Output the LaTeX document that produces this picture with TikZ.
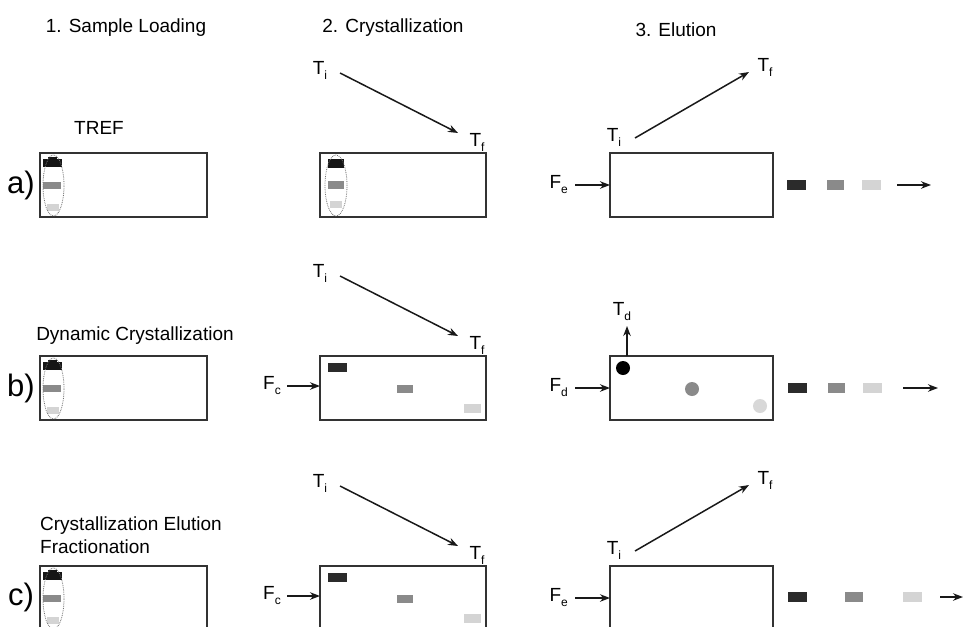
\documentclass[tikz,border=0pt]{standalone}
\usepackage{fontspec}
\setmainfont{Liberation Sans}
\usetikzlibrary{arrows.meta}
\newcommand{\lowsub}[1]{\raisebox{-0.5ex}{\fontsize{12}{12}\selectfont #1}}
\definecolor{bandblack}{HTML}{151515}
\definecolor{banddark}{HTML}{2B2B2B}
\definecolor{bandgray}{HTML}{8A8A8A}
\definecolor{bandlight}{HTML}{D4D4D4}
\begin{document}
\begin{tikzpicture}[x=1pt,y=-1pt,
  hdr/.style={font=\fontsize{19}{22}\selectfont, inner sep=0pt},
  lbl/.style={font=\fontsize{19}{23}\selectfont, inner sep=0pt, align=left},
  rowlbl/.style={font=\fontsize{31}{31}\selectfont, inner sep=0pt},
  tlbl/.style={font=\fontsize{19}{19}\selectfont, inner sep=0pt},
  colbox/.style={draw=black!80, line width=1.6pt, inner sep=0pt, outer sep=0pt, minimum height=64pt},
  arr/.style={-{Stealth[length=10pt,width=7.5pt]}, line width=1.5pt, draw=black!90},
  loadell/.style={draw=black!55, densely dotted, line width=0.8pt}
]
\clip (0,0) rectangle (963,626);
\fill[white] (0,0) rectangle (963,626);

% headers
\node[hdr] (h1) at (126,28) {1. Sample Loading};
\node[hdr] (h2) at (393,28) {2. Crystallization};
\node[hdr] (h3) at (676,30) {3. Elution};

% method labels
\node[lbl] (tref) at (99,128) {TREF};
\node[lbl] (dyn) at (135,336) {Dynamic Crystallization};
\node[lbl, anchor=west] (cef) at (40,535.5) {Crystallization Elution\\Fractionation};

% row labels
\node[rowlbl] (ra) at (21,185) {a)};
\node[rowlbl] (rb) at (21,388) {b)};
\node[rowlbl] (rc) at (21,597) {c)};

% ---------- column 1: sample loading ----------
\foreach \r/\t in {a/153,b/356,c/566}{
  \node[colbox, minimum width=167pt] (s\r) at (123.5,\t+32) {};
  \fill[bandblack] (43,\t+6) rectangle (62,\t+14);
  \fill[bandblack] (48,\t+3.5) rectangle (57,\t+6);
  \fill[bandgray] (43,\t+29) rectangle (61,\t+36);
  \fill[bandlight] (47,\t+51) rectangle (59,\t+58);
  \draw[loadell] (53.5,\t+32.5) ellipse [x radius=10.5pt, y radius=30.5pt];
}

% ---------- column 2: crystallization ----------
\foreach \r/\t in {a/153,b/356,c/566}{
  \node[colbox, minimum width=166pt] (c\r) at (403,\t+32) {};
  \node[tlbl] (cti\r) at (320,\t-83) {T\lowsub{i}};
  \node[tlbl] (ctf\r) at (477,\t-11) {T\lowsub{f}};
  \coordinate (cs\r) at (340,\t-80);
  \coordinate (ce\r) at (458,\t-20);
  \draw[arr] (cs\r) -- (ce\r);
}
% row a: sample still at the inlet
\fill[bandblack] (328,159) rectangle (344,168);
\fill[bandgray] (328,181) rectangle (344,189);
\fill[bandlight] (330,201) rectangle (342,208);
\draw[loadell] (336,185.5) ellipse [x radius=11pt, y radius=30.5pt];
% rows b, c: separated with flow
\foreach \r/\t in {b/356,c/566}{
  \fill[banddark] (328,\t+7) rectangle (347,\t+16);
  \fill[bandgray] (397,\t+29) rectangle (413,\t+37);
  \fill[bandlight] (464,\t+48) rectangle (481,\t+57);
  \node[tlbl, anchor=east] (fc\r) at (281,\t+30) {F\lowsub{c}};
  \coordinate (fcs\r) at (287,\t+30);
  \draw[arr] (fcs\r) -- (fcs\r -| c\r.west);
}

% ---------- column 3: elution ----------
\foreach \r/\t in {a/153,b/356,c/566}{
  \node[colbox, minimum width=163pt] (e\r) at (691.5,\t+32) {};
  \coordinate (fes\r) at (575,\t+32);
  \draw[arr] (fes\r) -- (fes\r -| e\r.west);
}
\node[tlbl, anchor=east] (fea) at (568,185) {F\lowsub{e}};
\node[tlbl, anchor=east] (fdb) at (568,388) {F\lowsub{d}};
\node[tlbl, anchor=east] (fec) at (568,598) {F\lowsub{e}};

% temperature ramps (rows a, c)
\foreach \r/\t in {a/153,c/566}{
  \node[tlbl] (eti\r) at (614,\t-16) {T\lowsub{i}};
  \node[tlbl] (etf\r) at (765,\t-86) {T\lowsub{f}};
  \coordinate (es\r) at (635,\t-15);
  \coordinate (ee\r) at (749,\t-81);
  \draw[arr] (es\r) -- (ee\r);
}
% row b: T_d and circles
\coordinate (tdb) at (627,326);
\draw[arr] (tdb |- eb.north) -- (tdb);
\node[tlbl] (tdl) at (622,312) {T\lowsub{d}};
\fill[black] (623,368) circle [radius=7pt];
\fill[bandgray] (692,389) circle [radius=7pt];
\fill[bandlight!90] (760,406) circle [radius=7pt];

% eluted fractions
\fill[banddark] (787,180) rectangle (806,190);
\fill[bandgray] (827,180) rectangle (844,190);
\fill[bandlight] (862,180) rectangle (881,190);
\coordinate (oa1) at (897,185); \coordinate (oa2) at (931,185);
\draw[arr] (oa1) -- (oa2);

\fill[banddark] (788,383) rectangle (807,393);
\fill[bandgray] (828,383) rectangle (845,393);
\fill[bandlight] (863,383) rectangle (882,393);
\coordinate (ob1) at (903,388); \coordinate (ob2) at (938,388);
\draw[arr] (ob1) -- (ob2);

\fill[banddark] (788,592) rectangle (807,602);
\fill[bandgray] (845,592) rectangle (863,602);
\fill[bandlight] (903,592) rectangle (922,602);
\coordinate (oc1) at (940,597); \coordinate (oc2) at (963,597);
\draw[arr] (oc1) -- (oc2);
\end{tikzpicture}
\end{document}
